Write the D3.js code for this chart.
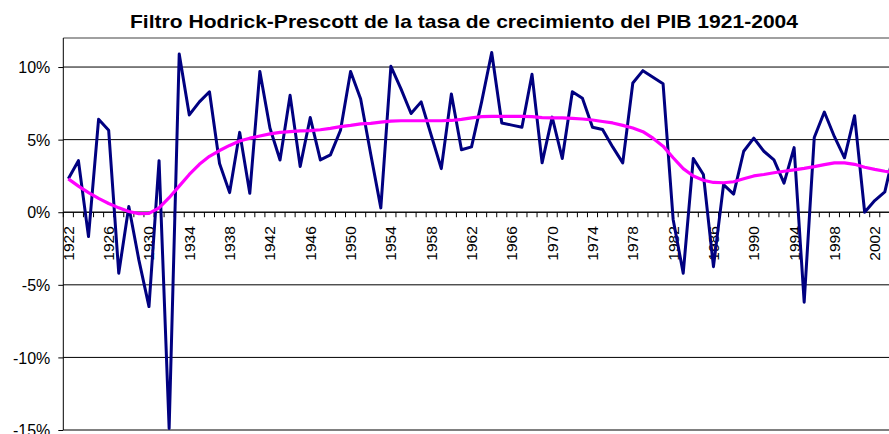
<!DOCTYPE html>
<html>
<head>
<meta charset="utf-8">
<script src="https://cdn.jsdelivr.net/npm/d3@7"></script>
<style>
  html, body { margin: 0; padding: 0; background: #fff; overflow: hidden; }
  svg { display: block; }
  text { font-family: "Liberation Sans", Arial, sans-serif; fill: #000; }
</style>
</head>
<body>
<svg id="chart" width="889" height="434"></svg>
<script>
const years = d3.range(1922, 2005);
const growth = [
  2.3, 3.55, -1.68, 6.4, 5.65, -4.2, 0.39, -3.3, -6.5, 3.55,
  -14.9, 10.9, 6.7, 7.6, 8.3, 3.36, 1.35, 5.5, 1.3, 9.7,
  5.8, 3.6, 8.05, 3.15, 6.52, 3.6, 3.95, 5.65, 9.7, 7.8,
  4.0, 0.3, 10.05, 8.5, 6.8, 7.6, 5.3, 3.0, 8.15, 4.3,
  4.5, 7.6, 11.0, 6.15, 6.0, 5.85, 9.5, 3.4, 6.55, 3.7,
  8.3, 7.85, 5.85, 5.7, 4.5, 3.4, 8.9, 9.75, 9.3, 8.85,
  -0.5, -4.2, 3.7, 2.6, -3.75, 1.9, 1.25, 4.2, 5.1, 4.2,
  3.6, 2.0, 4.45, -6.2, 5.15, 6.9, 5.2, 3.75, 6.65, 0.0,
  0.8, 1.4, 4.4
];
const hpTrend = [
  2.3, 1.8, 1.35, 0.95, 0.6, 0.3, 0.05, -0.1, -0.08, 0.3,
  1.0, 1.8, 2.6, 3.3, 3.85, 4.25, 4.6, 4.9, 5.1, 5.25,
  5.4, 5.5, 5.55, 5.6, 5.62, 5.68, 5.78, 5.9, 5.98, 6.08,
  6.12, 6.2, 6.28, 6.3, 6.3, 6.3, 6.3, 6.3, 6.32, 6.4,
  6.5, 6.58, 6.6, 6.6, 6.6, 6.6, 6.58, 6.52, 6.5, 6.5,
  6.47, 6.42, 6.35, 6.25, 6.15, 5.98, 5.8, 5.55, 5.1, 4.55,
  3.75, 3.0, 2.5, 2.2, 2.05, 2.03, 2.1, 2.3, 2.5, 2.6,
  2.72, 2.82, 2.92, 3.02, 3.14, 3.28, 3.4, 3.4, 3.3, 3.1,
  2.95, 2.82, 2.72
];
const yTicks = [-15, -10, -5, 0, 5, 10];
const xLabelYears = years.filter(v => (v - 1922) % 4 === 0);
const titleText = "Filtro Hodrick-Prescott de la tasa de crecimiento del PIB 1921-2004";

const svg = d3.select("#chart");
const plotLeft = 63.3, plotTop = 38, plotBottom = 430, step = 10.08;
const x = d3.scaleBand().domain(years).range([plotLeft, plotLeft + years.length * step]).padding(0);
const xc = d => x(d) + x.bandwidth() / 2;
const y = d3.scaleLinear().domain([-15, 12]).range([plotBottom, plotTop]);

svg.append("rect").attr("width", 889).attr("height", 434).attr("fill", "#fff");

// title
svg.append("text")
  .attr("x", 464).attr("y", 28)
  .attr("text-anchor", "middle")
  .attr("textLength", 668)
  .attr("lengthAdjust", "spacingAndGlyphs")
  .style("font-weight", "bold")
  .style("font-size", "19px")
  .text(titleText);

// top border
svg.append("line").attr("x1", plotLeft).attr("x2", 889).attr("y1", plotTop).attr("y2", plotTop)
  .attr("stroke", "#808080").attr("stroke-width", 1.5);

// gridlines
svg.append("g").selectAll("line").data(yTicks).join("line")
  .attr("x1", plotLeft).attr("x2", 889)
  .attr("y1", d => y(d)).attr("y2", d => y(d))
  .attr("stroke", "#000").attr("stroke-width", 1);

// y axis
const yAxis = d3.axisLeft(y).tickValues(yTicks).tickSize(5).tickPadding(8)
  .tickFormat(d => d + "%");
const gy = svg.append("g").attr("transform", `translate(${plotLeft},0)`).call(yAxis);
gy.select(".domain").attr("stroke", "#000").attr("d", `M0,${plotTop}V${plotBottom}`);
gy.selectAll(".tick line").attr("stroke", "#000");
gy.selectAll(".tick text").style("font-size", "16px").attr("dy", "0.36em")
  .style("font-family", '"Liberation Sans", Arial, sans-serif');

// x axis at zero
const gx = svg.append("g").attr("transform", `translate(0,${y(0)})`);
gx.append("line").attr("x1", plotLeft).attr("x2", 889).attr("y1", 0).attr("y2", 0).attr("stroke", "#000");
const bounds = years.map(d => x(d)).concat([x(years[years.length - 1]) + x.bandwidth()]);
gx.selectAll("line.tk").data(bounds).join("line").attr("class", "tk")
  .attr("x1", d => d).attr("x2", d => d).attr("y1", 0).attr("y2", 5).attr("stroke", "#000");
gx.selectAll("text.lb").data(xLabelYears).join("text").attr("class", "lb")
  .attr("transform", d => `translate(${xc(d) + 5.5},14) rotate(-90)`)
  .attr("text-anchor", "end")
  .style("font-size", "15.5px")
  .text(d => d);

// lines
const lineGen = vals => d3.line()
  .x((d, i) => xc(years[i]))
  .y(d => y(d))(vals);

svg.append("path").attr("d", lineGen(growth))
  .attr("fill", "none").attr("stroke", "#000080").attr("stroke-width", 3)
  .attr("stroke-linejoin", "round");
svg.append("path").attr("d", lineGen(hpTrend))
  .attr("fill", "none").attr("stroke", "#FF00FF").attr("stroke-width", 3.2)
  .attr("stroke-linejoin", "round");
</script>
</body>
</html>
